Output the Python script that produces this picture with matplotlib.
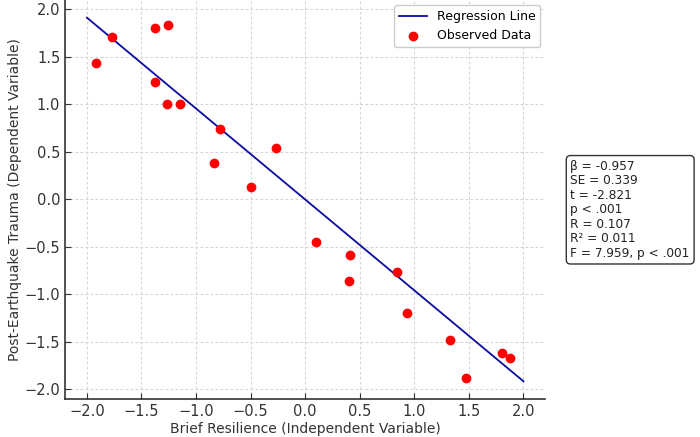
import numpy as np
import matplotlib.pyplot as plt

resilience = [-1.92, -1.77, -1.38, -1.26, -1.38, -1.27, -1.15, -0.78, -0.84, -0.50,
              -0.27, 0.10, 0.41, 0.40, 0.84, 0.93, 1.33, 1.47, 1.80, 1.88]
trauma = [1.44, 1.71, 1.81, 1.84, 1.24, 1.01, 1.00, 0.74, 0.38, 0.13,
          0.54, -0.45, -0.58, -0.86, -0.76, -1.20, -1.48, -1.88, -1.62, -1.67]

beta = -0.957
line_x = [-2.0, 2.0]
stats_text = ("β = -0.957\nSE = 0.339\nt = -2.821\np < .001\n"
              "R = 0.107\nR² = 0.011\nF = 7.959, p < .001")

fig = plt.figure(figsize=(7, 4.37), dpi=100)
ax = fig.add_axes([0.093, 0.087, 0.686, 0.913])

ax.plot(line_x, [beta * v for v in line_x], color='#0a0aa0', lw=1.3, label='Regression Line', zorder=3)
ax.scatter(resilience, trauma, color='red', s=36, label='Observed Data', zorder=4)

ax.set_xlim(-2.2, 2.2)
ax.set_ylim(-2.1, 2.1)
ax.set_xticks(np.arange(-2.0, 2.01, 0.5))
ax.set_yticks(np.arange(-2.0, 2.01, 0.5))
ax.tick_params(direction='in', labelsize=10.5, colors='#333333', length=4)
ax.grid(True, linestyle=(0, (2.5, 2)), color='#d5d5d5', lw=0.8)
ax.set_axisbelow(True)
for s in ['top', 'right']:
    ax.spines[s].set_visible(False)
for s in ['left', 'bottom']:
    ax.spines[s].set_color('#333333')
    ax.spines[s].set_linewidth(1.2)

ax.set_xlabel('Brief Resilience (Independent Variable)', fontsize=10, color='#333333', labelpad=2)
ax.set_ylabel('Post-Earthquake Trauma (Dependent Variable)', fontsize=10, color='#333333', labelpad=2)

ax.legend(loc='upper right', fontsize=9, framealpha=1, edgecolor='#cccccc',
          borderaxespad=0.4, handlelength=2.2)

fig.text(0.815, 0.52, stats_text, fontsize=8.7, va='center', ha='left', linespacing=1.15,
         color='#222222',
         bbox=dict(boxstyle='round,pad=0.35', facecolor='white', edgecolor='#333333', lw=1))

fig.savefig('out.png', dpi=100)
